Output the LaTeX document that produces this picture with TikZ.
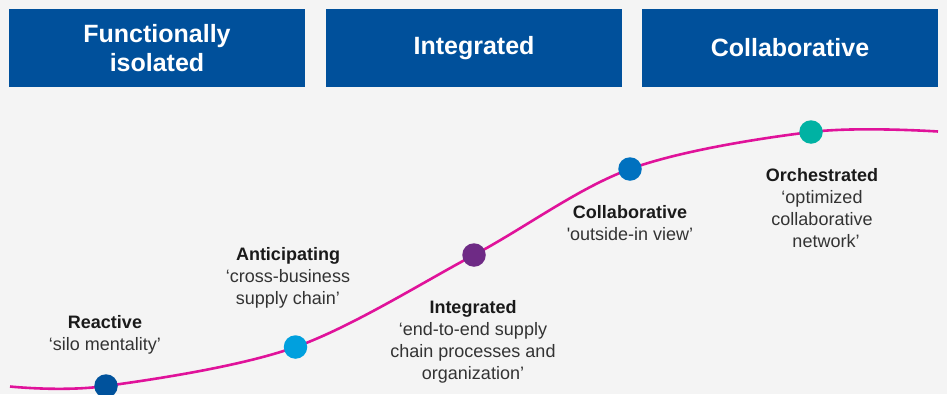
\documentclass[tikz,border=0pt]{standalone}
\usepackage{fontspec}
\setmainfont{Liberation Sans}
\definecolor{bgcol}{HTML}{F4F4F4}
\definecolor{hdrblue}{HTML}{00509B}
\definecolor{curvecol}{HTML}{E0129A}
\definecolor{dotA}{HTML}{00529C}
\definecolor{dotB}{HTML}{00A0DE}
\definecolor{dotC}{HTML}{6E2A85}
\definecolor{dotD}{HTML}{0071BF}
\definecolor{dotE}{HTML}{00B2A3}
\definecolor{txtdark}{HTML}{1A1A1A}
\definecolor{txtgrey}{HTML}{333333}
\begin{document}
\begin{tikzpicture}[x=1pt,y=-1pt,
  hdr/.style={fill=hdrblue, draw=none, minimum width=296pt, minimum height=78pt,
    inner sep=0pt, text=white, font=\fontsize{25}{29}\selectfont\bfseries, align=center},
  stagedot/.style={circle, draw=none, minimum size=23.5pt, inner sep=0pt},
  lbl/.style={align=center, inner sep=0pt, text=txtgrey, font=\fontsize{18}{22}\selectfont},
  curve/.style={draw=curvecol, line width=2.6pt}
]
\useasboundingbox[fill=bgcol] (0,0) rectangle (947,394);
% headers
\node[hdr] (h1) at (157,48) {Functionally\\isolated};
\node[hdr] (h2) at (474,48) {Integrated};
\node[hdr] (h3) at (790,48) {Collaborative};
% curve coordinates
\coordinate (cs) at (10,386.5);
\coordinate (p1) at (106,386);
\coordinate (p2) at (295.5,347);
\coordinate (p3) at (474,255);
\coordinate (p4) at (630,169);
\coordinate (p5) at (811,132);
\coordinate (ce) at (938,131.5);
\draw[curve] plot[smooth, tension=0.55] coordinates {(cs) (p1) (p2) (p3) (p4) (p5) (ce)};
% dots
\node[stagedot, fill=dotA] (d1) at (p1) {};
\node[stagedot, fill=dotB] (d2) at (p2) {};
\node[stagedot, fill=dotC] (d3) at (p3) {};
\node[stagedot, fill=dotD] (d4) at (p4) {};
\node[stagedot, fill=dotE] (d5) at (p5) {};
% labels (base anchor = baseline of the last line)
\node[lbl, anchor=base] (l1) at (105,350) {\textcolor{txtdark}{\bfseries Reactive}\\‘silo mentality’};
\node[lbl, anchor=base] (l2) at (288,304) {\textcolor{txtdark}{\bfseries Anticipating}\\‘cross-business\\supply chain’};
\node[lbl, anchor=base] (l3) at (473,379.5) {\textcolor{txtdark}{\bfseries Integrated}\\‘end-to-end supply\\chain processes and\\organization’};
\node[lbl, anchor=base] (l4) at (630,240.5) {\textcolor{txtdark}{\bfseries Collaborative}\\\textquotesingle outside-in view’};
\node[lbl, anchor=base] (l5) at (822,247.5) {\textcolor{txtdark}{\bfseries Orchestrated}\\‘optimized\hspace*{10pt}\\collaborative\hspace*{3pt}\\\hspace*{8pt}network’};
\end{tikzpicture}
\end{document}
